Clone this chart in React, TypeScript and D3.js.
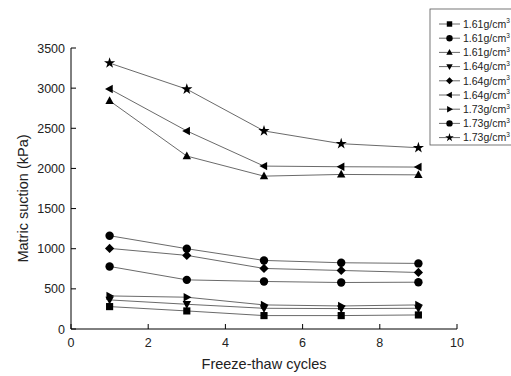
import React from "react";
import * as d3 from "d3";

const cycles = [1, 3, 5, 7, 9];
const legendLabels = ["1.61", "1.61", "1.61", "1.64", "1.64", "1.64", "1.73", "1.73", "1.73"];
const markerTypes = ["square", "circle", "triUp", "triDown", "diamond", "triLeft", "triRight", "circle", "star"];
const s1 = [279, 225, 167, 167, 175];
const s2 = [779, 612, 592, 579, 583];
const s3 = [2842, 2154, 1904, 1925, 1920];
const s4 = [362, 308, 258, 254, 258];
const s5 = [1004, 917, 754, 729, 704];
const s6 = [2990, 2467, 2029, 2021, 2017];
const s7 = [412, 396, 300, 287, 300];
const s8 = [1162, 1000, 854, 825, 817];
const s9 = [3312, 2987, 2467, 2308, 2258];
const seriesValues = [s1, s2, s3, s4, s5, s6, s7, s8, s9];
const xTicks = [0, 2, 4, 6, 8, 10];
const yTicks = [0, 500, 1000, 1500, 2000, 2500, 3000, 3500];

function Marker({ type, x, y, s = 4.2 }: { type: string; x: number; y: number; s?: number }) {
  const f = "#000";
  switch (type) {
    case "square":
      return <rect x={x - s * 0.85} y={y - s * 0.85} width={s * 1.7} height={s * 1.7} fill={f} />;
    case "circle":
      return <circle cx={x} cy={y} r={s} fill={f} />;
    case "triUp":
      return <path d={`M${x},${y - s * 1.1}L${x + s},${y + s * 0.75}L${x - s},${y + s * 0.75}Z`} fill={f} />;
    case "triDown":
      return <path d={`M${x},${y + s * 1.1}L${x + s},${y - s * 0.75}L${x - s},${y - s * 0.75}Z`} fill={f} />;
    case "triLeft":
      return <path d={`M${x - s * 1.1},${y}L${x + s * 0.75},${y - s}L${x + s * 0.75},${y + s}Z`} fill={f} />;
    case "triRight":
      return <path d={`M${x + s * 1.1},${y}L${x - s * 0.75},${y - s}L${x - s * 0.75},${y + s}Z`} fill={f} />;
    case "diamond":
      return <path d={`M${x},${y - s * 1.1}L${x + s * 1.1},${y}L${x},${y + s * 1.1}L${x - s * 1.1},${y}Z`} fill={f} />;
    case "star": {
      const sym = d3.symbol(d3.symbolStar, s * s * 2.2)();
      return <path d={sym as string} transform={`translate(${x},${y})`} fill={f} />;
    }
  }
  return null;
}

export default function App() {
  const W = 511, H = 376;
  const x = d3.scaleLinear().domain([0, 10]).range([71, 457]);
  const y = d3.scaleLinear().domain([0, 3500]).range([329, 48]);
  const line = d3.line<number>().x((_, i) => x(cycles[i])).y((v) => y(v));
  const font = "Arial, 'Liberation Sans', sans-serif";
  const legX = 430, legY = 9;
  return (
    <svg width={W} height={H} style={{ position: "absolute", left: 0, top: 0, background: "#fff" }} fontFamily={font}>
      {seriesValues.map((vals, k) => (
        <path key={k} d={line(vals) as string} fill="none" stroke="#444" strokeWidth={0.8} />
      ))}
      {seriesValues.map((vals, k) =>
        vals.map((v, i) => <Marker key={k + "-" + i} type={markerTypes[k]} x={x(cycles[i])} y={y(v)} />)
      )}
      <line x1={x(0)} x2={x(10)} y1={y(0)} y2={y(0)} stroke="#000" strokeWidth={1} />
      <line x1={x(0)} x2={x(0)} y1={y(0)} y2={y(3500)} stroke="#000" strokeWidth={1} />
      {xTicks.map((t) => (
        <g key={"x" + t}>
          <line x1={x(t)} x2={x(t)} y1={y(0)} y2={y(0) - 5} stroke="#000" />
          <text x={x(t)} y={347} fontSize={12.5} textAnchor="middle" fill="#222">{t}</text>
        </g>
      ))}
      {yTicks.map((t) => (
        <g key={"y" + t}>
          <line x1={x(0)} x2={x(0) + 5} y1={y(t)} y2={y(t)} stroke="#000" />
          <text x={65} y={y(t) + 4.5} fontSize={12.5} textAnchor="end" fill="#222">{t}</text>
        </g>
      ))}
      <text x={264} y={369} fontSize={14.5} textAnchor="middle" fill="#222">Freeze-thaw cycles</text>
      <text transform={`translate(28,${(y(0) + y(3500)) / 2 + 10}) rotate(-90)`} fontSize={14.5} textAnchor="middle" fill="#222">
        Matric suction (kPa)
      </text>
      <rect x={legX} y={legY} width={100} height={136} fill="#fff" stroke="#555" strokeWidth={0.8} />
      {legendLabels.map((lab, k) => {
        const ly = 24 + k * 14.2;
        return (
          <g key={"l" + k}>
            <line x1={439} x2={460} y1={ly} y2={ly} stroke="#444" strokeWidth={0.8} />
            <Marker type={markerTypes[k]} x={449.5} y={ly} s={3.2} />
            <text x={463} y={ly + 3.8} fontSize={10.5} fill="#222">
              {lab}g/cm<tspan fontSize={6.5} dy={-4.5}>3</tspan>
            </text>
          </g>
        );
      })}
    </svg>
  );
}
